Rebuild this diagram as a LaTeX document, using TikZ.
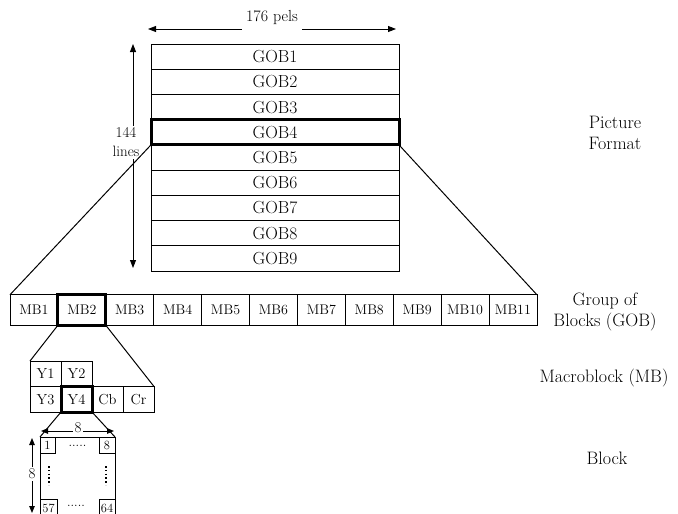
\documentclass[tikz,border=0pt]{standalone}
\usetikzlibrary{arrows.meta}
\begin{document}
\begin{tikzpicture}[x=1pt,y=-1pt,
  cell/.style={draw, line width=0.8pt, rectangle, inner sep=0pt, outer sep=0pt},
  gobcell/.style={cell, minimum width=248pt, minimum height=25.22pt, font=\fontsize{17.5}{20}\selectfont},
  mbcell/.style={cell, minimum width=47.9pt, minimum height=30.5pt, font=\fontsize{14}{16}\selectfont},
  ycell/.style={cell, minimum width=31pt, minimum height=25.5pt, font=\fontsize{14.5}{16}\selectfont},
  pix/.style={cell, font=\fontsize{12.5}{13}\selectfont},
  hl/.style={draw, line width=3pt},
  zoomline/.style={line width=1pt},
  dim/.style={line width=0.9pt, {Triangle[length=8pt,width=6pt]}-{Triangle[length=8pt,width=6pt]}},
  smalldim/.style={line width=0.9pt, {Triangle[length=7pt,width=5.5pt]}-{Triangle[length=7pt,width=5.5pt]}},
  dimlabel/.style={fill=white, inner sep=2pt},
  caption/.style={align=center, font=\fontsize{18}{21}\selectfont},
  dotrow/.style={font=\fontsize{13}{13}\selectfont, inner sep=0pt},
  vdotsline/.style={line width=1.6pt, dash pattern=on 1.6pt off 2.2pt}
]
\useasboundingbox (0,0) rectangle (678,514);

% ---- picture format: nine GOBs ----
\foreach \i in {1,...,9}
  \node[gobcell] (gob\i) at (275,{44+25.22*(\i-0.5)}) {GOB\i};
\draw[hl] (gob4.north west) rectangle (gob4.south east);

% width and height of the picture
\coordinate (pelL) at (148,29);
\coordinate (pelR) at (396,29);
\draw[dim] (pelL) -- (pelR);
\node[fill=white, inner xsep=4pt, inner ysep=7pt, font=\fontsize{16}{18}\selectfont] (pels) at (272,18) {176 pels};

\coordinate (linT) at (133,44);
\coordinate (linB) at (133,268);
\draw[dim] (linT) -- (linB);
\node[dimlabel, align=center, font=\fontsize{15}{19}\selectfont] (lines) at (126,142.5) {144\\lines};

% ---- group of blocks: eleven macroblocks ----
\foreach \i in {1,...,11}
  \node[mbcell] (mb\i) at ({10+47.9*(\i-0.5)},310) {MB\i};
\draw[hl] (mb2.north west) rectangle (mb2.south east);

\draw[zoomline] (gob4.south west) -- (mb1.north west);
\draw[zoomline] (gob4.south east) -- (mb11.north east);

% ---- macroblock: four luminance and two chrominance blocks ----
\node[ycell] (y1) at (45.5,373.75) {Y1};
\node[ycell] (y2) at (76.5,373.75) {Y2};
\node[ycell] (y3) at (45.5,399.25) {Y3};
\node[ycell] (y4) at (76.5,399.25) {Y4};
\node[ycell] (cb) at (107.5,399.25) {Cb};
\node[ycell] (cr) at (138.5,399.25) {Cr};
\draw[hl] (y4.north west) rectangle (y4.south east);

\draw[zoomline] (mb2.south west) -- (y1.north west);
\draw[zoomline] (mb2.south east) -- (cr.north east);

% ---- block: 8 x 8 pixels ----
\node[cell, minimum width=75pt, minimum height=84pt] (blk) at (77.5,479) {};
\node[pix, anchor=north west, minimum width=15pt, minimum height=16pt] (p1) at (blk.north west) {1};
\node[pix, anchor=north east, minimum width=16pt, minimum height=16pt] (p8) at (blk.north east) {8};
\node[pix, anchor=north west, minimum width=17pt, minimum height=18pt] (p57) at (40,499) {57};
\node[pix, anchor=north east, minimum width=16pt, minimum height=18pt] (p64) at (115,499) {64};
\node[dotrow] (dtop) at (77.5,446) {.....};
\node[dotrow] (dbot) at (76,506) {.....};
\draw[vdotsline] (49,466) -- (49,485);
\draw[vdotsline] (106,466) -- (106,485);

\draw[zoomline] (y4.south west) -- (blk.north west);
\draw[zoomline] (y4.south east) -- (blk.north east);

\coordinate (bwL) at (41,431);
\coordinate (bwR) at (114,431);
\draw[smalldim] (bwL) -- (bwR);
\node[dimlabel, font=\fontsize{15}{17}\selectfont] (bw) at (78,428) {8};

\coordinate (bhT) at (32,438);
\coordinate (bhB) at (32,513);
\draw[smalldim] (bhT) -- (bhB);
\node[dimlabel, font=\fontsize{15}{17}\selectfont] (bh) at (32,474) {8};

% ---- level captions ----
\node[caption] (capPic) at (615,133) {Picture\\Format};
\node[caption] (capGob) at (605,312) {Group of\\Blocks (GOB)};
\node[caption] (capMb) at (604,378) {Macroblock (MB)};
\node[caption] (capBlk) at (607,458) {Block};
\end{tikzpicture}
\end{document}
